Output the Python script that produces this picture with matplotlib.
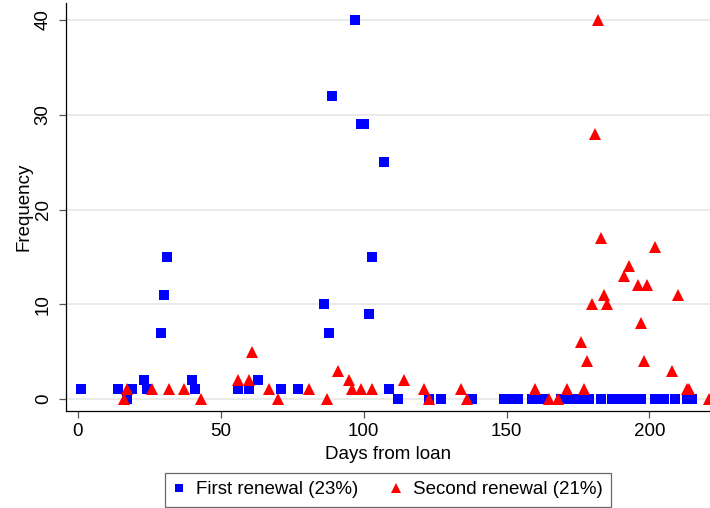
import matplotlib
matplotlib.use("Agg")
import matplotlib.pyplot as plt

plt.rcParams["font.family"] = ["Liberation Sans", "DejaVu Sans"]

# Days from loan and frequency of renewals
first_days = [1, 14, 17, 19, 23, 24, 29, 30, 31, 40, 41, 56, 60, 63, 71, 77,
              86, 88, 89, 97, 99, 100, 102, 103, 107, 109, 112, 123, 127, 138,
              149, 151, 153, 154, 159, 161, 163, 169, 171, 173, 175, 177, 179,
              183, 187, 189, 191, 193, 195, 197, 202, 205, 209, 213, 215]
first_freq = [1, 1, 0, 1, 2, 1, 7, 11, 15, 2, 1, 1, 1, 2, 1, 1,
              10, 7, 32, 40, 29, 29, 9, 15, 25, 1, 0, 0, 0, 0,
              0, 0, 0, 0, 0, 0, 0, 0, 0, 0, 0, 0, 0,
              0, 0, 0, 0, 0, 0, 0, 0, 0, 0, 0, 0]

second_days = [16, 17, 26, 32, 37, 43, 56, 60, 61, 67, 70, 81, 87, 91, 95, 96,
               99, 103, 114, 121, 123, 134, 136, 160, 165, 168, 171, 176, 177,
               178, 180, 181, 182, 183, 184, 185, 191, 193, 196, 197, 198, 199,
               202, 208, 210, 213, 214, 221]
second_freq = [0, 1, 1, 1, 1, 0, 2, 2, 5, 1, 0, 1, 0, 3, 2, 1,
               1, 1, 2, 1, 0, 1, 0, 1, 0, 0, 1, 6, 1,
               4, 10, 28, 40, 17, 11, 10, 13, 14, 12, 8, 4, 12,
               16, 3, 11, 1, 1, 0]

first_label = "First renewal (23%)"
second_label = "Second renewal (21%)"
x_ticks = [0, 50, 100, 150, 200]
y_ticks = [0, 10, 20, 30, 40]

W, H = 710, 508
fig = plt.figure(figsize=(W / 100, H / 100), dpi=100)
left_px, right_px, top_px, bottom_px = 65.7, 710, 3, 411
ax = fig.add_axes([left_px / W, 1 - bottom_px / H,
                   (right_px - left_px) / W, (bottom_px - top_px) / H])

ax.plot(first_days, first_freq, linestyle="none", marker="s", markersize=7.2,
        color="#0000ff", markeredgewidth=0, label=first_label, zorder=3)
ax.plot(second_days, second_freq, linestyle="none", marker="^", markersize=8.6,
        color="#ff0000", markeredgewidth=0, label=second_label, zorder=4)

ax.set_xlim(-4.3, 221.2)
ax.set_ylim(-1.27, 41.8)
ax.set_xticks(x_ticks)
ax.set_yticks(y_ticks)
ax.grid(axis="y", color="#e8e8e8", linewidth=1.3, zorder=0)
ax.set_axisbelow(True)

for side in ("top", "right"):
    ax.spines[side].set_visible(False)
for side in ("left", "bottom"):
    ax.spines[side].set_linewidth(0.9)
    ax.spines[side].set_color("black")

ax.tick_params(axis="both", direction="out", length=5, width=0.9,
               color="#555555", labelsize=13.5, pad=4)
ax.tick_params(axis="y", pad=5)
for lab in ax.get_yticklabels():
    lab.set_rotation(90)
    lab.set_va("center")

ax.set_xlabel("Days from loan", fontsize=13.5, labelpad=4)
ax.set_ylabel("Frequency", fontsize=13.5, labelpad=2)

leg = fig.legend(loc="upper center", bbox_to_anchor=(388 / W, 1 - 472.5 / H),
                 ncol=2, fontsize=13.5, frameon=True, fancybox=False,
                 edgecolor="#444444", borderpad=0.45, handlelength=0.6,
                 handletextpad=0.6, columnspacing=1.7, markerscale=0.85,
                 borderaxespad=0)
leg.get_frame().set_linewidth(0.9)

fig.savefig("out.png", dpi=100)
